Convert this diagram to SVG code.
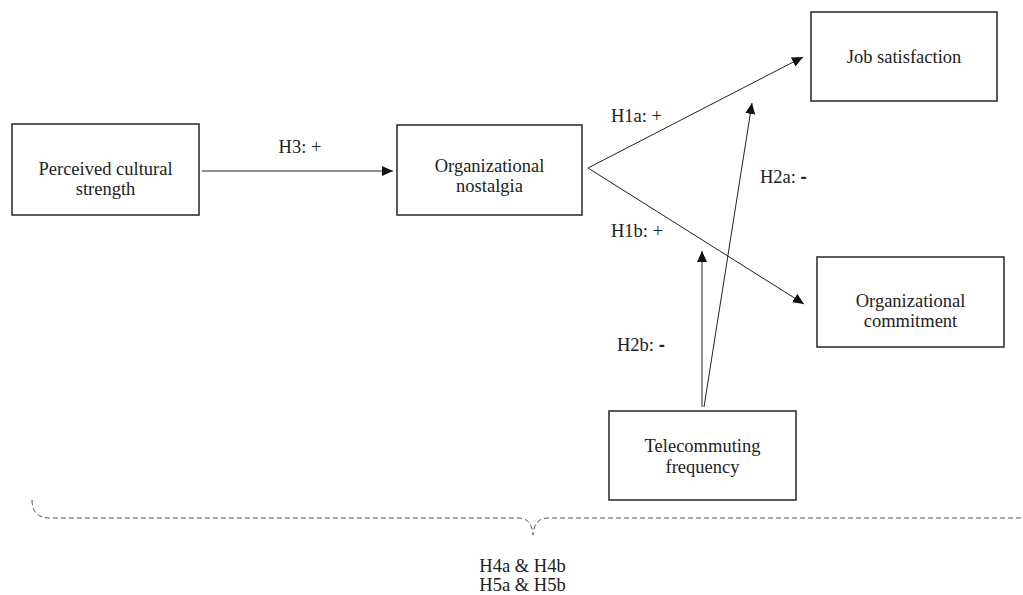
<svg xmlns="http://www.w3.org/2000/svg" width="1023" height="595" viewBox="0 0 1023 595">
<style>
.box{fill:#fff;stroke:#333;stroke-width:1.6}
.lbl{font-family:"Liberation Serif","Times New Roman",serif;font-size:18.5px;fill:#222}
.c{text-anchor:middle}
.ln{stroke:#222;stroke-width:1;fill:none}
.dash{stroke:#555;stroke-width:1;fill:none;stroke-dasharray:5 3}
</style>
<defs>
<marker id="arr" markerUnits="userSpaceOnUse" markerWidth="12" markerHeight="10" refX="11" refY="5" orient="auto">
<path d="M0,0 L11,5 L0,10 Z" fill="#111"/>
</marker>
</defs>
<rect width="1023" height="595" fill="#fff"/>
<g id="node-perceived">
<rect class="box" x="12" y="124" width="187" height="91"/>
<text class="lbl c" x="105.5" y="175">Perceived cultural</text>
<text class="lbl c" x="105.5" y="195">strength</text>
</g>
<g id="node-nostalgia">
<rect class="box" x="397" y="125" width="185" height="90"/>
<text class="lbl c" x="489.5" y="172">Organizational</text>
<text class="lbl c" x="489.5" y="192">nostalgia</text>
</g>
<g id="node-job">
<rect class="box" x="811" y="12" width="186" height="89"/>
<text class="lbl c" x="904" y="63">Job satisfaction</text>
</g>
<g id="node-commitment">
<rect class="box" x="817" y="257" width="187" height="90"/>
<text class="lbl c" x="910.5" y="307">Organizational</text>
<text class="lbl c" x="910.5" y="327">commitment</text>
</g>
<g id="node-telecommuting">
<rect class="box" x="609" y="411" width="187" height="89"/>
<text class="lbl c" x="702.5" y="452">Telecommuting</text>
<text class="lbl c" x="702.5" y="473">frequency</text>
</g>
<g id="connectors">
<line class="ln" x1="202" y1="171" x2="393" y2="171" marker-end="url(#arr)"/>
<line class="ln" x1="588" y1="168" x2="803" y2="57" marker-end="url(#arr)"/>
<line class="ln" x1="588" y1="168" x2="804" y2="304" marker-end="url(#arr)"/>
<line class="ln" x1="702" y1="407" x2="702" y2="251" marker-end="url(#arr)"/>
<line class="ln" x1="704" y1="407" x2="752" y2="103" marker-end="url(#arr)"/>
<path class="dash" d="M32,500 Q32,518 50,518 L518,518 Q532,518 533,535 Q534,518 548,518 L1020,518 L1022,515"/>
</g>
<g id="labels">
<text class="lbl c" x="300" y="153">H3: +</text>
<text class="lbl" x="611" y="122">H1a: +</text>
<text class="lbl" x="760" y="183">H2a: <tspan font-family="Liberation Sans,Arial,sans-serif" font-weight="bold">-</tspan></text>
<text class="lbl" x="611" y="237">H1b: +</text>
<text class="lbl" x="617" y="351">H2b: <tspan font-family="Liberation Sans,Arial,sans-serif" font-weight="bold">-</tspan></text>
<text class="lbl c" x="522.5" y="572">H4a &amp; H4b</text>
<text class="lbl c" x="522.5" y="591">H5a &amp; H5b</text>
</g>
</svg>
